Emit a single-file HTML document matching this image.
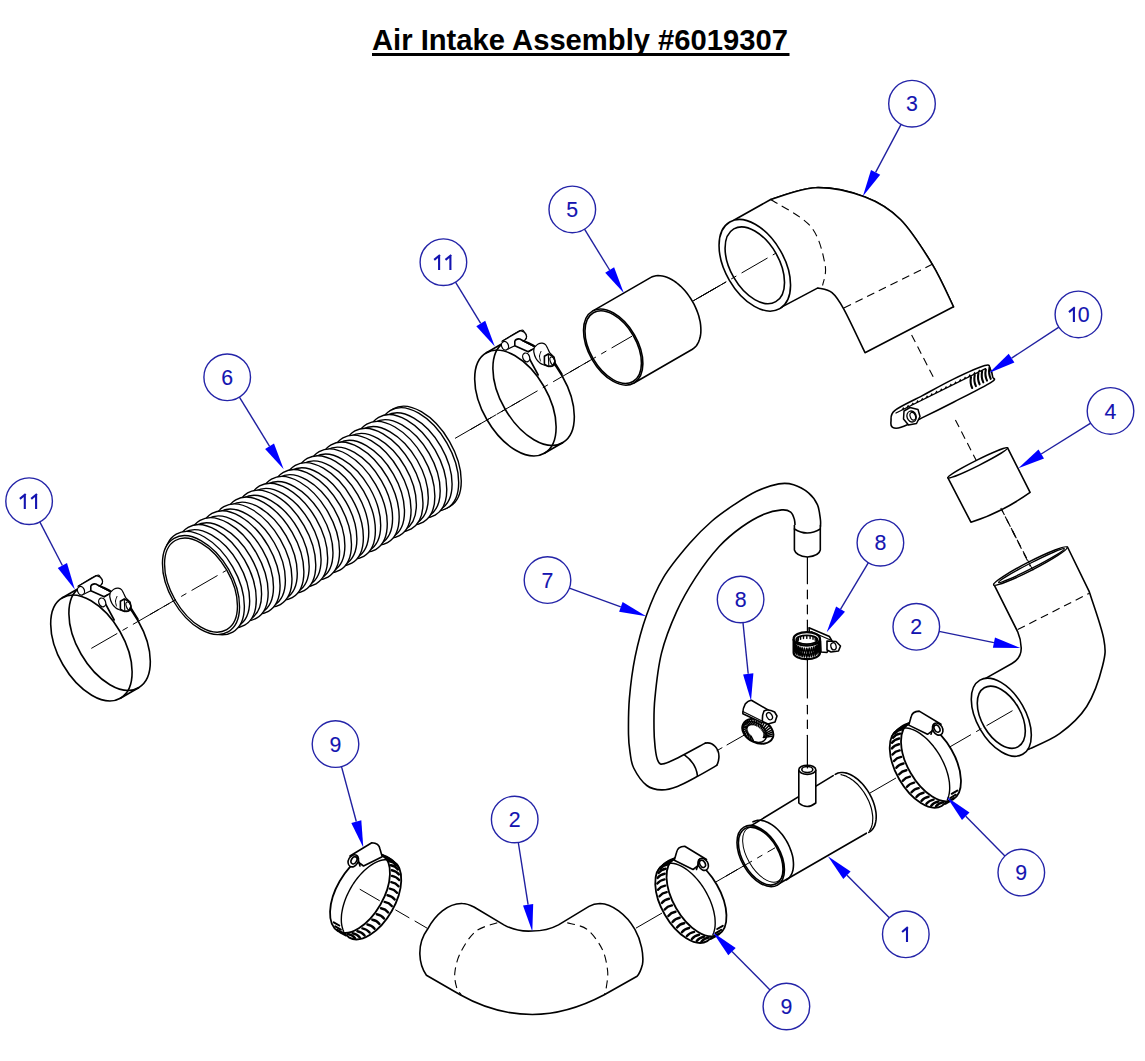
<!DOCTYPE html>
<html><head><meta charset="utf-8"><style>
html,body{margin:0;padding:0;background:#fff;width:1145px;height:1061px;overflow:hidden}
svg{position:absolute;left:0;top:0}
.cc{fill:none;stroke:#2424a8;stroke-width:1.4}
.cl{stroke:#2020a0;stroke-width:1.4}
.ca{fill:#0000ff}
.c1{fill:none;stroke:#1414b0;stroke-width:2.1;stroke-linecap:butt}
.ct{font-family:"Liberation Sans",sans-serif;font-size:21.3px;fill:#1414b0;stroke:#1414b0;stroke-width:0.12;text-anchor:middle}
.k{fill:none;stroke:#000;stroke-width:1.6;stroke-linejoin:round;stroke-linecap:round}
.kw{fill:#fff;stroke:#000;stroke-width:1.6;stroke-linejoin:round}
.t{fill:none;stroke:#000;stroke-width:1}
.t6{stroke-width:1.4}
.dc{fill:none;stroke:#000;stroke-width:1;stroke-dasharray:30 6 6 6}
.dv{fill:none;stroke:#000;stroke-width:1.1;stroke-dasharray:26 5 8 5}
.dd{fill:none;stroke:#000;stroke-width:1.1;stroke-dasharray:8 5}
</style></head><body>
<svg width="1145" height="1061" viewBox="0 0 1145 1061">
<text x="372" y="50" style="font-family:'Liberation Sans',sans-serif;font-weight:bold;font-size:29.4px" textLength="416" lengthAdjust="spacingAndGlyphs">Air Intake Assembly #6019307</text>
<rect x="372" y="53" width="417.5" height="3" fill="#000"/>
<line x1="91.3" y1="648.4" x2="170.0" y2="603.0" class="dc" />
<line x1="455.0" y1="438.4" x2="520.0" y2="400.9" class="dc" />
<line x1="690.0" y1="302.7" x2="776.0" y2="253.1" class="dc" />
<ellipse cx="421.4" cy="457.8" rx="56.5" ry="32.5" transform="rotate(60.0 421.4 457.8)" class="kw t6" />
<ellipse cx="418.8" cy="459.3" rx="56.5" ry="32.5" transform="rotate(60.0 418.8 459.3)" class="kw t6" />
<ellipse cx="413.7" cy="462.3" rx="54.0" ry="31.5" transform="rotate(60.0 413.7 462.3)" class="kw t6" />
<ellipse cx="406.9" cy="466.2" rx="56.5" ry="32.5" transform="rotate(60.0 406.9 466.2)" class="kw t6" />
<ellipse cx="401.8" cy="469.1" rx="54.0" ry="31.5" transform="rotate(60.0 401.8 469.1)" class="kw t6" />
<ellipse cx="395.0" cy="473.1" rx="56.5" ry="32.5" transform="rotate(60.0 395.0 473.1)" class="kw t6" />
<ellipse cx="389.9" cy="476.0" rx="54.0" ry="31.5" transform="rotate(60.0 389.9 476.0)" class="kw t6" />
<ellipse cx="383.1" cy="479.9" rx="56.5" ry="32.5" transform="rotate(60.0 383.1 479.9)" class="kw t6" />
<ellipse cx="378.0" cy="482.9" rx="54.0" ry="31.5" transform="rotate(60.0 378.0 482.9)" class="kw t6" />
<ellipse cx="371.2" cy="486.8" rx="56.5" ry="32.5" transform="rotate(60.0 371.2 486.8)" class="kw t6" />
<ellipse cx="366.1" cy="489.8" rx="54.0" ry="31.5" transform="rotate(60.0 366.1 489.8)" class="kw t6" />
<ellipse cx="359.3" cy="493.7" rx="56.5" ry="32.5" transform="rotate(60.0 359.3 493.7)" class="kw t6" />
<ellipse cx="354.2" cy="496.6" rx="54.0" ry="31.5" transform="rotate(60.0 354.2 496.6)" class="kw t6" />
<ellipse cx="347.4" cy="500.6" rx="56.5" ry="32.5" transform="rotate(60.0 347.4 500.6)" class="kw t6" />
<ellipse cx="342.3" cy="503.5" rx="54.0" ry="31.5" transform="rotate(60.0 342.3 503.5)" class="kw t6" />
<ellipse cx="335.5" cy="507.4" rx="56.5" ry="32.5" transform="rotate(60.0 335.5 507.4)" class="kw t6" />
<ellipse cx="330.4" cy="510.4" rx="54.0" ry="31.5" transform="rotate(60.0 330.4 510.4)" class="kw t6" />
<ellipse cx="323.5" cy="514.3" rx="56.5" ry="32.5" transform="rotate(60.0 323.5 514.3)" class="kw t6" />
<ellipse cx="318.5" cy="517.3" rx="54.0" ry="31.5" transform="rotate(60.0 318.5 517.3)" class="kw t6" />
<ellipse cx="311.6" cy="521.2" rx="56.5" ry="32.5" transform="rotate(60.0 311.6 521.2)" class="kw t6" />
<ellipse cx="306.5" cy="524.1" rx="54.0" ry="31.5" transform="rotate(60.0 306.5 524.1)" class="kw t6" />
<ellipse cx="299.7" cy="528.1" rx="56.5" ry="32.5" transform="rotate(60.0 299.7 528.1)" class="kw t6" />
<ellipse cx="294.6" cy="531.0" rx="54.0" ry="31.5" transform="rotate(60.0 294.6 531.0)" class="kw t6" />
<ellipse cx="287.8" cy="534.9" rx="56.5" ry="32.5" transform="rotate(60.0 287.8 534.9)" class="kw t6" />
<ellipse cx="282.7" cy="537.9" rx="54.0" ry="31.5" transform="rotate(60.0 282.7 537.9)" class="kw t6" />
<ellipse cx="275.9" cy="541.8" rx="56.5" ry="32.5" transform="rotate(60.0 275.9 541.8)" class="kw t6" />
<ellipse cx="270.8" cy="544.8" rx="54.0" ry="31.5" transform="rotate(60.0 270.8 544.8)" class="kw t6" />
<ellipse cx="264.0" cy="548.7" rx="56.5" ry="32.5" transform="rotate(60.0 264.0 548.7)" class="kw t6" />
<ellipse cx="258.9" cy="551.6" rx="54.0" ry="31.5" transform="rotate(60.0 258.9 551.6)" class="kw t6" />
<ellipse cx="252.1" cy="555.6" rx="56.5" ry="32.5" transform="rotate(60.0 252.1 555.6)" class="kw t6" />
<ellipse cx="247.0" cy="558.5" rx="54.0" ry="31.5" transform="rotate(60.0 247.0 558.5)" class="kw t6" />
<ellipse cx="240.2" cy="562.4" rx="56.5" ry="32.5" transform="rotate(60.0 240.2 562.4)" class="kw t6" />
<ellipse cx="235.1" cy="565.4" rx="54.0" ry="31.5" transform="rotate(60.0 235.1 565.4)" class="kw t6" />
<ellipse cx="228.3" cy="569.3" rx="56.5" ry="32.5" transform="rotate(60.0 228.3 569.3)" class="kw t6" />
<ellipse cx="223.2" cy="572.3" rx="54.0" ry="31.5" transform="rotate(60.0 223.2 572.3)" class="kw t6" />
<ellipse cx="216.4" cy="576.2" rx="56.5" ry="32.5" transform="rotate(60.0 216.4 576.2)" class="kw t6" />
<ellipse cx="211.3" cy="579.1" rx="54.0" ry="31.5" transform="rotate(60.0 211.3 579.1)" class="kw t6" />
<ellipse cx="204.5" cy="583.1" rx="56.5" ry="32.5" transform="rotate(60.0 204.5 583.1)" class="kw t6" />
<ellipse cx="201.0" cy="585.1" rx="54.0" ry="31.8" transform="rotate(60.0 201.0 585.1)" class="kw t6" />
<ellipse cx="201.0" cy="585.1" rx="51.5" ry="29.8" transform="rotate(60.0 201.0 585.1)" class="k t6" />
<line x1="150.0" y1="614.5" x2="226.0" y2="570.6" class="dc" />
<ellipse cx="109.6" cy="637.5" rx="58.0" ry="33.0" transform="rotate(60.0 109.6 637.5)" class="k" />
<ellipse cx="91.4" cy="648.0" rx="58.0" ry="33.0" transform="rotate(60.0 91.4 648.0)" class="k" />
<line x1="62.4" y1="597.8" x2="80.6" y2="587.3" class="k" />
<line x1="120.4" y1="698.2" x2="138.6" y2="687.7" class="k" />
<line x1="105.3" y1="603.5" x2="114.2" y2="620.0" class="k" />
<line x1="129.9" y1="606.3" x2="138.0" y2="619.2" class="k" />
<path d="M78.2,586.2 C81.2,584.4 92.7,577.1 96.4,575.6 C100.1,574.1 99.3,576.4 100.3,577.3 C101.3,578.2 102.3,580.0 102.5,581.2 C102.7,582.4 102.0,583.8 101.4,584.5 C100.9,585.2 99.6,585.5 99.2,585.7" class="k" style="stroke-width:1.25"/>
<path d="M78.2,586.2 L96.4,575.6 Q102,576 102.5,581.2 L101.4,584.5 L84.1,594 Z" class="kw" style="stroke:none"/>
<line x1="78.2" y1="586.2" x2="96.4" y2="575.6" class="k" style="stroke-width:1.25"/>
<path d="M96.4,575.6 C97.1,575.9 99.3,576.4 100.3,577.3 C101.3,578.2 102.3,580.0 102.5,581.2 C102.7,582.4 102.0,583.8 101.4,584.5 C100.9,585.2 99.6,585.5 99.2,585.7" class="k" style="stroke-width:1.25"/>
<line x1="84.1" y1="594.0" x2="90.8" y2="590.7" class="k" style="stroke-width:1.25"/>
<ellipse cx="81.0" cy="590.7" rx="3.4" ry="4.4" transform="rotate(-20.0 81.0 590.7)" class="kw" style="stroke-width:1.25"/>
<path d="M90.8,590.7 L90.8,586.2 Q92,583.5 95.8,584 L112,592.4 L104.2,596.8 L91.9,591.2 Z" class="kw"/>
<line x1="98.0" y1="585.7" x2="111.0" y2="592.2" class="k" style="stroke-width:1"/>
<ellipse cx="102.2" cy="602.4" rx="3.4" ry="4.5" transform="rotate(-20.0 102.2 602.4)" class="kw" style="stroke-width:1.25"/>
<line x1="104.2" y1="596.8" x2="108.0" y2="594.5" class="k" style="stroke-width:1.25"/>
<path d="M110.3,592.4 C111.0,591.8 112.9,589.7 114.2,589.0 C115.5,588.3 117.0,588.1 118.2,588.2 C119.4,588.3 120.6,588.7 121.5,589.6 C122.4,590.5 123.0,592.1 123.7,593.5 C124.5,594.9 125.1,596.8 126.0,598.0 C126.9,599.2 128.2,599.8 129.0,601.0 C129.8,602.2 130.5,603.4 130.5,605.0 C130.5,606.6 129.8,609.7 128.8,610.8 C127.8,611.9 125.7,611.5 124.3,611.4 C122.9,611.3 121.8,610.8 120.4,610.2 C119.0,609.6 117.3,609.1 115.9,608.0 C114.5,606.9 113.0,605.4 112.0,603.5 C111.0,601.6 110.1,598.6 109.8,596.8 C109.5,594.9 110.2,593.1 110.3,592.4" class="kw" style="stroke-width:1.25"/>
<path d="M116.5,606.0 C116.3,605.2 115.4,602.6 115.5,601.0 C115.6,599.4 116.8,597.2 117.0,596.5" class="k" style="stroke-width:1"/>
<path d="M120.4,601.3 L124.3,599 L129.9,601.9 L131,606.3 L128.8,610.8 L124.3,611.4 L120.4,609.1 Z" class="kw"/>
<line x1="124.3" y1="599.0" x2="124.8" y2="611.2" class="k" style="stroke-width:1.1"/>
<ellipse cx="128.5" cy="606.0" rx="2.2" ry="4.3" transform="rotate(-20.0 128.5 606.0)" class="k" style="stroke-width:1.1"/>
<g transform="translate(424,-245)">
<ellipse cx="109.6" cy="637.5" rx="58.0" ry="33.0" transform="rotate(60.0 109.6 637.5)" class="k" />
<ellipse cx="91.4" cy="648.0" rx="58.0" ry="33.0" transform="rotate(60.0 91.4 648.0)" class="k" />
<line x1="62.4" y1="597.8" x2="80.6" y2="587.3" class="k" />
<line x1="120.4" y1="698.2" x2="138.6" y2="687.7" class="k" />
<line x1="105.3" y1="603.5" x2="114.2" y2="620.0" class="k" />
<line x1="129.9" y1="606.3" x2="138.0" y2="619.2" class="k" />
<path d="M78.2,586.2 C81.2,584.4 92.7,577.1 96.4,575.6 C100.1,574.1 99.3,576.4 100.3,577.3 C101.3,578.2 102.3,580.0 102.5,581.2 C102.7,582.4 102.0,583.8 101.4,584.5 C100.9,585.2 99.6,585.5 99.2,585.7" class="k" style="stroke-width:1.25"/>
<path d="M78.2,586.2 L96.4,575.6 Q102,576 102.5,581.2 L101.4,584.5 L84.1,594 Z" class="kw" style="stroke:none"/>
<line x1="78.2" y1="586.2" x2="96.4" y2="575.6" class="k" style="stroke-width:1.25"/>
<path d="M96.4,575.6 C97.1,575.9 99.3,576.4 100.3,577.3 C101.3,578.2 102.3,580.0 102.5,581.2 C102.7,582.4 102.0,583.8 101.4,584.5 C100.9,585.2 99.6,585.5 99.2,585.7" class="k" style="stroke-width:1.25"/>
<line x1="84.1" y1="594.0" x2="90.8" y2="590.7" class="k" style="stroke-width:1.25"/>
<ellipse cx="81.0" cy="590.7" rx="3.4" ry="4.4" transform="rotate(-20.0 81.0 590.7)" class="kw" style="stroke-width:1.25"/>
<path d="M90.8,590.7 L90.8,586.2 Q92,583.5 95.8,584 L112,592.4 L104.2,596.8 L91.9,591.2 Z" class="kw"/>
<line x1="98.0" y1="585.7" x2="111.0" y2="592.2" class="k" style="stroke-width:1"/>
<ellipse cx="102.2" cy="602.4" rx="3.4" ry="4.5" transform="rotate(-20.0 102.2 602.4)" class="kw" style="stroke-width:1.25"/>
<line x1="104.2" y1="596.8" x2="108.0" y2="594.5" class="k" style="stroke-width:1.25"/>
<path d="M110.3,592.4 C111.0,591.8 112.9,589.7 114.2,589.0 C115.5,588.3 117.0,588.1 118.2,588.2 C119.4,588.3 120.6,588.7 121.5,589.6 C122.4,590.5 123.0,592.1 123.7,593.5 C124.5,594.9 125.1,596.8 126.0,598.0 C126.9,599.2 128.2,599.8 129.0,601.0 C129.8,602.2 130.5,603.4 130.5,605.0 C130.5,606.6 129.8,609.7 128.8,610.8 C127.8,611.9 125.7,611.5 124.3,611.4 C122.9,611.3 121.8,610.8 120.4,610.2 C119.0,609.6 117.3,609.1 115.9,608.0 C114.5,606.9 113.0,605.4 112.0,603.5 C111.0,601.6 110.1,598.6 109.8,596.8 C109.5,594.9 110.2,593.1 110.3,592.4" class="kw" style="stroke-width:1.25"/>
<path d="M116.5,606.0 C116.3,605.2 115.4,602.6 115.5,601.0 C115.6,599.4 116.8,597.2 117.0,596.5" class="k" style="stroke-width:1"/>
<path d="M120.4,601.3 L124.3,599 L129.9,601.9 L131,606.3 L128.8,610.8 L124.3,611.4 L120.4,609.1 Z" class="kw"/>
<line x1="124.3" y1="599.0" x2="124.8" y2="611.2" class="k" style="stroke-width:1.1"/>
<ellipse cx="128.5" cy="606.0" rx="2.2" ry="4.3" transform="rotate(-20.0 128.5 606.0)" class="k" style="stroke-width:1.1"/>
</g>
<line x1="470.0" y1="429.8" x2="590.0" y2="360.5" class="dc" />
<path d="M592.5,311.1 L650.5,277.6 L652.2,276.8 L654.0,276.2 L656.0,275.8 L658.0,275.6 L660.2,275.7 L662.4,276.0 L664.6,276.5 L666.9,277.3 L669.2,278.3 L671.6,279.5 L673.9,280.9 L676.2,282.5 L678.5,284.4 L680.7,286.3 L682.9,288.5 L685.0,290.8 L687.0,293.3 L688.9,295.9 L690.7,298.5 L692.4,301.3 L694.0,304.2 L695.4,307.1 L696.7,310.1 L697.8,313.0 L698.8,316.0 L699.5,319.0 L700.2,321.9 L700.6,324.8 L700.8,327.6 L700.9,330.3 L700.8,333.0 L700.5,335.5 L700.0,337.8 L699.3,340.0 L698.5,342.1 L697.5,344.0 L696.4,345.7 L695.0,347.2 L693.6,348.4 L692.0,349.5 L634.0,383.0" class="kw" />
<ellipse cx="613.2" cy="347.1" rx="41.5" ry="24.5" transform="rotate(60.0 613.2 347.1)" class="kw" />
<ellipse cx="613.2" cy="347.1" rx="39.7" ry="23.2" transform="rotate(60.0 613.2 347.1)" class="k" />
<line x1="570.0" y1="372.0" x2="632.0" y2="336.2" class="dc" />
<line x1="694.0" y1="300.4" x2="720.0" y2="285.4" class="k" style="stroke-width:1"/>
<path d="M770.7,199.5 C778.2,197.5 799.8,188.1 815.5,187.7 C831.2,187.3 850.9,191.7 865.0,197.0 C879.1,202.3 889.2,208.3 900.4,219.5 C911.6,230.7 923.4,249.8 932.3,264.3 C941.1,278.9 950.0,299.7 953.5,306.8" class="k" />
<path d="M734.2,220 L770.7,199.5  C778.2,197.5 799.8,188.1 815.5,187.7 C831.2,187.3 850.9,191.7 865.0,197.0 C879.1,202.3 889.2,208.3 900.4,219.5 C911.6,230.7 923.4,249.8 932.3,264.3 C941.1,278.9 950.0,299.7 953.5,306.8 L865,352.7  C861.5,345.4 849.3,319.1 843.8,309.1 C838.3,299.1 836.3,296.1 832.0,292.6 C827.7,289.1 820.2,288.7 817.9,287.9 L777.8,309.1 Z" class="kw"/>
<ellipse cx="754.8" cy="265.3" rx="50.0" ry="29.5" transform="rotate(60.0 754.8 265.3)" class="kw" />
<ellipse cx="754.8" cy="265.3" rx="42.0" ry="24.3" transform="rotate(60.0 754.8 265.3)" class="k" />
<path d="M770.7,199.5 C777.4,204.0 801.8,215.8 810.8,226.6 C819.8,237.4 823.0,254.5 825.0,264.3 C827.0,274.1 823.0,282.0 822.6,285.5" class="dd" />
<line x1="843.8" y1="308.0" x2="932.3" y2="264.3" class="dd" />
<line x1="700.0" y1="297.0" x2="776.0" y2="253.1" class="dc" />
<line x1="911.6" y1="335.0" x2="933.8" y2="378.0" class="dd" />
<line x1="955.4" y1="420.0" x2="981.2" y2="470.0" class="dd" />
<line x1="999.2" y1="505.0" x2="1032.7" y2="570.0" class="dd" />
<path d="M894.7,410.6 C899.9,406.4 912.1,401.1 921.9,395.9 C931.7,390.6 942.9,384.2 953.4,379.1 C963.9,374.0 978.7,367.2 984.8,365.5 C990.9,363.8 988.8,366.7 990.1,368.6 C991.4,370.5 992.5,374.7 992.7,377.0 C992.9,379.3 997.7,378.1 991.1,382.3 C984.5,386.5 964.9,396.3 953.4,402.2 C941.9,408.1 930.6,413.7 921.9,417.9 C913.2,422.1 905.9,425.7 901.0,427.3 C896.1,428.9 894.3,428.4 892.6,427.3 C890.9,426.2 890.6,423.8 891.0,421.0 C891.4,418.2 889.6,414.8 894.7,410.6Z" class="kw" />
<line x1="896.0" y1="413.0" x2="985.5" y2="368.6" class="k" style="stroke-width:1.3"/>
<path d="M901.4,410.3 L903.2,407.1 L904.6,408.7 Z" fill="#000"/>
<path d="M906.1,407.9 L908.0,404.7 L909.4,406.3 Z" fill="#000"/>
<path d="M910.9,405.6 L912.7,402.4 L914.1,404.0 Z" fill="#000"/>
<path d="M915.6,403.2 L917.5,400.0 L918.9,401.6 Z" fill="#000"/>
<path d="M920.4,400.9 L922.2,397.7 L923.6,399.3 Z" fill="#000"/>
<path d="M925.1,398.5 L927.0,395.3 L928.4,396.9 Z" fill="#000"/>
<path d="M929.9,396.2 L931.7,393.0 L933.1,394.6 Z" fill="#000"/>
<path d="M934.6,393.8 L936.5,390.6 L937.9,392.2 Z" fill="#000"/>
<path d="M939.4,391.4 L941.2,388.2 L942.6,389.8 Z" fill="#000"/>
<path d="M944.1,389.1 L946.0,385.9 L947.4,387.5 Z" fill="#000"/>
<path d="M948.9,386.7 L950.7,383.5 L952.1,385.1 Z" fill="#000"/>
<path d="M953.6,384.4 L955.5,381.2 L956.9,382.8 Z" fill="#000"/>
<path d="M958.4,382.0 L960.2,378.8 L961.6,380.4 Z" fill="#000"/>
<path d="M963.1,379.7 L965.0,376.5 L966.4,378.1 Z" fill="#000"/>
<path d="M967.9,377.3 L969.7,374.1 L971.1,375.7 Z" fill="#000"/>
<path d="M972.6,375.0 L974.5,371.8 L975.9,373.4 Z" fill="#000"/>
<path d="M977.4,372.6 L979.2,369.4 L980.6,371.0 Z" fill="#000"/>
<path d="M971.0,377.0 Q969.8,383.0 972.2,388.0" class="k" style="stroke-width:2.1"/>
<path d="M974.7,375.1 Q973.5,381.1 975.9,386.1" class="k" style="stroke-width:2.1"/>
<path d="M978.4,373.3 Q977.2,379.3 979.6,384.3" class="k" style="stroke-width:2.1"/>
<path d="M982.1,371.4 Q980.9,377.4 983.3,382.4" class="k" style="stroke-width:2.1"/>
<path d="M985.8,369.6 Q984.6,375.6 987.0,380.6" class="k" style="stroke-width:2.1"/>
<path d="M989.5,367.8 Q988.3,373.8 990.7,378.8" class="k" style="stroke-width:2.1"/>
<path d="M904,411 L910,407.5 L918,409.5 L920,416.5 L916.5,423.5 L908.5,425 L903.5,419 Z" class="kw" style="stroke-width:1.5"/>
<ellipse cx="911.6" cy="416.5" rx="4.6" ry="5.6" transform="rotate(-20.0 911.6 416.5)" class="k" style="stroke-width:1.3"/>
<ellipse cx="912.8" cy="416.2" rx="2.6" ry="4.0" transform="rotate(-20.0 912.8 416.2)" class="k" style="stroke-width:1.2"/>
<path d="M947.8,477.7 L970.9,522.2 Q1001,513 1030.1,492.4 L1007.6,447.8 Z" class="kw"/>
<ellipse cx="977.7" cy="462.8" rx="33.4" ry="2.8" transform="rotate(-26.6 977.7 462.8)" class="kw" style="stroke-width:1.5"/>
<line x1="1000.8" y1="508.0" x2="1017.3" y2="540.0" class="dd" />
<path d="M983.8,679.4 L1012,663.5 C1018,660 1021.5,655 1021.2,647.7 C1021,641 1019.5,636 1017.7,631.8 L993.9,584.3 L1067.5,547 L1089,591.1  C1091.5,599.0 1101.4,626.2 1103.7,638.6 C1106.0,651.0 1105.4,654.5 1102.6,665.8 C1099.8,677.1 1093.9,695.2 1086.7,706.5 C1079.5,717.8 1069.4,726.5 1059.6,733.7 C1049.8,740.9 1033.2,746.9 1027.9,749.5 Z" class="kw"/>
<ellipse cx="1001.3" cy="717.2" rx="42.8" ry="24.3" transform="rotate(60.0 1001.3 717.2)" class="kw" />
<ellipse cx="1001.3" cy="717.2" rx="34.0" ry="19.6" transform="rotate(60.0 1001.3 717.2)" class="k" />
<ellipse cx="1030.4" cy="566.0" rx="41.3" ry="4.3" transform="rotate(-27.1 1030.4 566.0)" class="kw" style="stroke-width:1.5"/>
<ellipse cx="1031.5" cy="565.6" rx="37.0" ry="2.6" transform="rotate(-27.1 1031.5 565.6)" class="k" style="stroke-width:1.3"/>
<line x1="1027.6" y1="560.0" x2="1032.7" y2="570.0" class="k" style="stroke-width:1"/>
<line x1="1017.7" y1="629.6" x2="1089.0" y2="593.4" class="dd" />
<line x1="1012.0" y1="530.0" x2="1030.2" y2="566.2" class="dd" />
<line x1="636.0" y1="928.1" x2="668.0" y2="909.6" class="dc" />
<line x1="712.0" y1="884.2" x2="765.0" y2="853.6" class="dc" />
<line x1="870.0" y1="793.0" x2="905.0" y2="772.8" class="dc" />
<line x1="945.0" y1="749.7" x2="1018.0" y2="707.5" class="dc" />
<path d="M744.0,827.1 L835.7,774.1 L837.1,773.4 L838.6,772.9 L840.1,772.6 L841.8,772.5 L843.5,772.6 L845.2,772.8 L847.0,773.3 L848.8,773.9 L850.7,774.7 L852.5,775.7 L854.4,776.9 L856.2,778.2 L858.1,779.7 L859.9,781.3 L861.6,783.0 L863.3,784.9 L864.9,786.9 L866.5,789.0 L867.9,791.2 L869.3,793.4 L870.6,795.7 L871.7,798.1 L872.7,800.4 L873.7,802.8 L874.4,805.2 L875.1,807.6 L875.6,810.0 L875.9,812.3 L876.2,814.6 L876.2,816.8 L876.1,818.9 L875.9,820.9 L875.6,822.8 L875.1,824.5 L874.4,826.2 L873.6,827.7 L872.7,829.0 L871.7,830.2 L870.5,831.3 L869.2,832.1 L777.5,885.1Z" class="kw" style="stroke:none"/>
<line x1="745.2" y1="829.3" x2="833.2" y2="775.6" class="k" />
<line x1="777.2" y1="884.7" x2="866.4" y2="833.2" class="k" />
<path d="M835.2,774.4 L836.5,773.7 L838.0,773.1 L839.5,772.7 L841.2,772.5 L842.9,772.5 L844.7,772.7 L846.5,773.1 L848.3,773.7 L850.2,774.5 L852.1,775.5 L854.0,776.6 L855.9,778.0 L857.8,779.4 L859.6,781.1 L861.4,782.8 L863.2,784.7 L864.8,786.8 L866.4,788.9 L867.9,791.1 L869.3,793.4 L870.6,795.8 L871.8,798.2 L872.8,800.6 L873.7,803.1 L874.5,805.5 L875.1,807.9 L875.6,810.4 L876.0,812.7 L876.2,815.0 L876.2,817.2 L876.1,819.4 L875.8,821.4 L875.4,823.3 L874.9,825.1 L874.2,826.7 L873.3,828.2 L872.3,829.5 L871.2,830.7 L870.0,831.6 L868.7,832.4" class="k" />
<path d="M841.0,774.7 L842.3,775.0 L843.7,775.4 L845.2,775.8 L846.6,776.4 L848.0,777.2 L849.5,778.0 L850.9,778.9 L852.4,779.9 L853.8,781.0 L855.2,782.2 L856.6,783.5 L858.0,784.8 L859.3,786.3 L860.6,787.8 L861.8,789.4 L863.0,791.0 L864.2,792.7 L865.2,794.4 L866.3,796.2 L867.2,798.0 L868.1,799.8 L869.0,801.6 L869.7,803.5 L870.4,805.4 L871.0,807.2 L871.5,809.1 L871.9,810.9 L872.2,812.8 L872.5,814.6 L872.7,816.3 L872.8,818.0 L872.7,819.7 L872.6,821.3 L872.5,822.9 L872.2,824.4 L871.8,825.8 L871.4,827.1 L870.9,828.4 L870.3,829.5 L869.6,830.6" class="k" style="stroke-width:1.2"/>
<path d="M753.0,821.8 L754.4,821.2 L755.9,820.7 L757.4,820.4 L759.1,820.3 L760.7,820.3 L762.5,820.6 L764.3,821.0 L766.1,821.7 L768.0,822.5 L769.8,823.5 L771.7,824.6 L773.5,825.9 L775.4,827.4 L777.2,829.0 L778.9,830.8 L780.6,832.7 L782.2,834.6 L783.8,836.7 L785.2,838.9 L786.6,841.1 L787.9,843.5 L789.0,845.8 L790.0,848.2 L790.9,850.6 L791.7,853.0 L792.4,855.4 L792.9,857.7 L793.2,860.1 L793.4,862.3 L793.5,864.5 L793.4,866.6 L793.2,868.6 L792.9,870.5 L792.3,872.3 L791.7,873.9 L790.9,875.4 L790.0,876.8 L789.0,878.0 L787.8,879.0 L786.5,879.9" class="k" />
<ellipse cx="760.7" cy="856.1" rx="33.5" ry="19.4" transform="rotate(60.0 760.7 856.1)" class="kw" />
<ellipse cx="760.7" cy="856.1" rx="31.7" ry="18.1" transform="rotate(60.0 760.7 856.1)" class="k" />
<ellipse cx="763.2" cy="854.6" rx="30.5" ry="15.9" transform="rotate(60.0 763.2 854.6)" class="k" style="stroke-width:1"/>
<path d="M798.8,770 L798.8,803 Q807,810 815.8,803 L815.8,770" class="kw"/>
<ellipse cx="807.3" cy="769.8" rx="8.5" ry="4.6" transform="rotate(0.0 807.3 769.8)" class="kw" />
<ellipse cx="807.3" cy="769.5" rx="5.5" ry="3.0" transform="rotate(0.0 807.3 769.5)" class="k" />
<line x1="726.0" y1="876.1" x2="775.0" y2="847.8" class="dc" />
<line x1="807.4" y1="557.0" x2="807.4" y2="583.7" class="k" style="stroke-width:1.2"/>
<line x1="807.4" y1="590.0" x2="807.4" y2="598.7" class="k" style="stroke-width:1.2"/>
<line x1="807.4" y1="605.2" x2="807.4" y2="613.8" class="k" style="stroke-width:1.2"/>
<line x1="807.4" y1="620.2" x2="807.4" y2="640.0" class="k" style="stroke-width:1.2"/>
<line x1="807.4" y1="655.0" x2="807.4" y2="698.0" class="k" style="stroke-width:1.2"/>
<line x1="807.4" y1="705.3" x2="807.4" y2="713.8" class="k" style="stroke-width:1.2"/>
<line x1="807.4" y1="720.0" x2="807.4" y2="728.5" class="k" style="stroke-width:1.2"/>
<line x1="807.4" y1="735.3" x2="807.4" y2="768.0" class="k" style="stroke-width:1.2"/>
<path d="M820.4,527.0 C820.4,525.8 820.9,523.2 820.4,519.5 C819.9,515.8 819.4,509.1 817.4,504.7 C815.4,500.2 812.5,496.1 808.5,492.8 C804.5,489.5 798.6,486.2 793.6,484.7 C788.6,483.2 785.0,482.8 778.8,483.9 C772.6,485.0 763.9,487.8 756.5,491.3 C749.1,494.8 741.6,499.8 734.2,504.7 C726.8,509.6 719.4,514.6 712.0,521.0 C704.6,527.4 697.8,533.9 689.7,543.3 C681.6,552.7 670.6,565.6 663.4,577.6 C656.2,589.6 651.1,602.2 646.4,615.4 C641.7,628.6 637.9,643.1 635.1,656.9 C632.3,670.7 630.5,685.5 629.4,698.4 C628.3,711.3 628.4,725.3 628.5,734.2 C628.6,743.1 629.1,746.4 630.0,752.0 C630.9,757.6 630.9,762.4 633.7,768.0 C636.5,773.6 642.1,781.9 646.8,785.5 C651.5,789.1 656.6,789.8 661.7,789.9 C666.8,790.0 671.6,788.6 677.4,786.4 C683.2,784.2 690.0,780.3 696.6,776.8 C703.2,773.3 713.4,767.3 716.7,765.4" class="k" />
<path d="M795.1,527.0 C795.0,525.8 795.1,522.0 794.4,519.5 C793.7,517.0 792.8,513.7 790.7,512.1 C788.6,510.5 786.3,509.5 781.8,509.9 C777.3,510.3 770.6,511.4 763.9,514.3 C757.2,517.1 749.1,521.7 741.7,527.0 C734.3,532.3 727.1,537.9 719.4,546.3 C711.7,554.7 702.6,566.7 695.5,577.6 C688.4,588.5 682.3,599.0 676.6,611.6 C670.9,624.2 665.1,638.6 661.5,653.1 C657.9,667.6 656.1,685.8 654.9,698.4 C653.6,711.0 654.0,720.3 654.0,728.6 C654.0,736.9 654.7,742.9 655.2,748.0 C655.8,753.1 656.4,756.6 657.3,759.3 C658.2,762.0 658.7,763.7 660.8,764.1 C662.9,764.5 666.5,762.9 670.0,761.5 C673.5,760.1 675.9,758.9 681.8,755.8 C687.7,752.7 701.4,745.2 705.3,743.1" class="k" />
<path d="M794.4,525 L794.4,550 Q796,556 807.5,557 Q819,556 820.3,550 L820.3,525" class="kw"/>
<path d="M794.4,529 Q807,537 820.3,529" class="k"/>
<path d="M705.3,743.1 C713,741.5 719.5,749 718.9,757.6 C718.7,761 717.8,763.5 716.7,765.4" class="k"/>
<path d="M684.4,754.9 Q696,763 697.5,775.9" class="k"/>
<line x1="717.0" y1="750.6" x2="722.0" y2="747.8" class="k" style="stroke-width:1"/>
<line x1="727.0" y1="744.9" x2="743.7" y2="735.4" class="k" style="stroke-width:1"/>
<path d="M809,627.7 L829.5,636.6 L832,641 L827,652.5 L821,652 L820.5,641 L809.5,635 Z" class="kw" style="stroke-width:1.6"/>
<line x1="811.0" y1="631.5" x2="830.5" y2="640.0" class="k" style="stroke-width:1.2"/>
<path d="M827,641 L836,641.5 L840.5,646 L838.5,651 L831,652 L827,650 Z" class="kw" style="stroke-width:1.6"/>
<ellipse cx="833.5" cy="646.3" rx="2.6" ry="3.6" transform="rotate(-15.0 833.5 646.3)" class="k" style="stroke-width:1.3"/>
<path d="M793.6,638.9 L793.6,652.4 A13.2,6.8 0 0 0 820.0,652.4 L820.0,638.9" class="kw" style="stroke-width:2.2"/>
<ellipse cx="806.8" cy="638.9" rx="13.2" ry="6.8" transform="rotate(0.0 806.8 638.9)" class="kw" style="stroke-width:2.2"/>
<ellipse cx="806.8" cy="639.7" rx="10.6" ry="4.4" transform="rotate(0.0 806.8 639.7)" class="k" style="stroke-width:1.8"/>
<path d="M794.6,641.4 L794.8,651.7 L795.5,644.0 L796.7,654.2 L798.2,646.2 L800.0,656.1 L802.1,647.7 L804.4,657.1 L806.8,648.2 L809.2,657.1 L811.5,647.7 L813.6,656.1 L815.4,646.2 L816.9,654.2 L818.1,644.0 L818.8,651.7 L819.0,641.4" class="k" style="stroke-width:1.5"/>
<path d="M794.6,650.4 L794.8,642.7 L795.5,653.0 L796.7,645.2 L798.2,655.2 L800.0,647.1 L802.1,656.7 L804.4,648.1 L806.8,657.2 L809.2,648.1 L811.5,656.7 L813.6,647.1 L815.4,655.2 L816.9,645.2 L818.1,653.0 L818.8,642.7 L819.0,650.4" class="k" style="stroke-width:1.5"/>
<line x1="797.2" y1="639.0" x2="797.2" y2="641.5" class="k" style="stroke-width:1.4"/>
<line x1="798.4" y1="637.8" x2="798.4" y2="640.3" class="k" style="stroke-width:1.4"/>
<line x1="800.6" y1="636.8" x2="800.6" y2="639.3" class="k" style="stroke-width:1.4"/>
<line x1="803.5" y1="636.1" x2="803.5" y2="638.6" class="k" style="stroke-width:1.4"/>
<line x1="806.8" y1="635.9" x2="806.8" y2="638.4" class="k" style="stroke-width:1.4"/>
<line x1="810.1" y1="636.1" x2="810.1" y2="638.6" class="k" style="stroke-width:1.4"/>
<line x1="813.0" y1="636.8" x2="813.0" y2="639.3" class="k" style="stroke-width:1.4"/>
<line x1="815.2" y1="637.8" x2="815.2" y2="640.3" class="k" style="stroke-width:1.4"/>
<line x1="816.4" y1="639.0" x2="816.4" y2="641.5" class="k" style="stroke-width:1.4"/>
<ellipse cx="757.8" cy="731.2" rx="16.3" ry="11.5" transform="rotate(25 757.8 731.2)" fill="#fff" stroke="#000" stroke-width="2"/>
<ellipse cx="754.8" cy="732.0" rx="12.8" ry="9.0" transform="rotate(35 754.8 732)" fill="none" stroke="#000" stroke-width="1.5"/>
<line x1="753.4" y1="740.5" x2="751.0" y2="736.1" class="k" style="stroke-width:1.5"/>
<line x1="751.0" y1="739.2" x2="749.8" y2="734.9" class="k" style="stroke-width:1.5"/>
<line x1="748.9" y1="737.6" x2="748.7" y2="733.7" class="k" style="stroke-width:1.5"/>
<line x1="747.0" y1="735.8" x2="747.9" y2="732.3" class="k" style="stroke-width:1.5"/>
<line x1="745.5" y1="733.9" x2="747.3" y2="731.0" class="k" style="stroke-width:1.5"/>
<line x1="744.4" y1="731.9" x2="747.0" y2="729.7" class="k" style="stroke-width:1.5"/>
<line x1="743.7" y1="729.8" x2="747.0" y2="728.4" class="k" style="stroke-width:1.5"/>
<line x1="743.5" y1="727.8" x2="747.3" y2="727.3" class="k" style="stroke-width:1.5"/>
<line x1="743.8" y1="725.9" x2="747.8" y2="726.4" class="k" style="stroke-width:1.5"/>
<line x1="744.6" y1="724.1" x2="748.6" y2="725.6" class="k" style="stroke-width:1.5"/>
<line x1="745.8" y1="722.7" x2="749.7" y2="725.1" class="k" style="stroke-width:1.5"/>
<line x1="747.4" y1="721.5" x2="750.9" y2="724.7" class="k" style="stroke-width:1.5"/>
<line x1="749.4" y1="720.6" x2="752.3" y2="724.7" class="k" style="stroke-width:1.5"/>
<line x1="751.6" y1="720.1" x2="753.8" y2="724.8" class="k" style="stroke-width:1.5"/>
<line x1="754.0" y1="719.9" x2="755.3" y2="725.2" class="k" style="stroke-width:1.5"/>
<line x1="756.6" y1="720.1" x2="756.9" y2="725.9" class="k" style="stroke-width:1.5"/>
<line x1="759.2" y1="720.8" x2="758.4" y2="726.7" class="k" style="stroke-width:1.5"/>
<line x1="761.8" y1="721.7" x2="759.8" y2="727.7" class="k" style="stroke-width:1.5"/>
<line x1="764.2" y1="723.0" x2="761.1" y2="728.9" class="k" style="stroke-width:1.5"/>
<line x1="766.4" y1="724.5" x2="762.1" y2="730.2" class="k" style="stroke-width:1.5"/>
<line x1="768.4" y1="726.3" x2="763.0" y2="731.5" class="k" style="stroke-width:1.5"/>
<line x1="769.9" y1="728.2" x2="763.6" y2="732.8" class="k" style="stroke-width:1.5"/>
<line x1="771.1" y1="730.3" x2="763.9" y2="734.1" class="k" style="stroke-width:1.5"/>
<line x1="771.8" y1="732.3" x2="764.0" y2="735.4" class="k" style="stroke-width:1.5"/>
<line x1="772.1" y1="734.3" x2="763.8" y2="736.5" class="k" style="stroke-width:1.5"/>
<line x1="771.8" y1="736.3" x2="763.3" y2="737.5" class="k" style="stroke-width:1.5"/>
<path d="M751.4,700.2 L774.6,713.8 L762.1,722.8 L742.9,713.8 Q742.5,709 745.2,704.1 Q748,700.5 751.4,700.2 Z" class="kw" style="stroke-width:1.6"/>
<line x1="742.9" y1="711.5" x2="762.0" y2="721.0" class="k" style="stroke-width:1.1"/>
<path d="M764,711 Q768,708.5 774.6,712 L777,716 L775,722 L768,724 L762.5,721.5 Q762,715 764,711 Z" class="kw" style="stroke-width:1.6"/>
<ellipse cx="769.5" cy="716.2" rx="2.6" ry="3.8" transform="rotate(-30.0 769.5 716.2)" class="k" style="stroke-width:1.3"/>
<ellipse cx="371.3" cy="899.5" rx="44.0" ry="23.5" transform="rotate(120.0 371.3 899.5)" class="kw" style="stroke-width:1.8"/>
<ellipse cx="360.0" cy="893.0" rx="44.0" ry="23.5" transform="rotate(120.0 360.0 893.0)" class="kw" style="stroke-width:1.8"/>
<path d="M343.6,931.3 L342.8,929.3 L342.2,927.1 L341.7,924.8 L341.4,922.3 L341.3,919.7 L341.4,916.9 L341.6,914.0 L342.1,911.1 L342.7,908.0 L343.5,905.0 L344.5,901.8 L345.6,898.7 L346.9,895.6 L348.4,892.5 L350.0,889.4 L351.7,886.4 L353.5,883.5 L355.5,880.7 L357.5,878.0 L359.7,875.4 L361.9,873.0 L364.1,870.7 L366.4,868.7 L368.8,866.8 L371.1,865.1 L373.5,863.6 L375.8,862.4 L378.1,861.3 L380.4,860.5 L382.6,860.0 L384.7,859.7 L386.8,859.6 L388.8,859.8 L390.6,860.2 L392.3,860.9 L394.0,861.8 L395.4,863.0 L396.7,864.3 L397.9,865.9 L398.9,867.7" class="k" style="stroke-width:1.4"/>
<path d="M379.3,854.5 Q383.9,855.3 386.5,858.6" class="k" style="stroke-width:2.4"/>
<path d="M383.2,855.6 Q387.8,856.5 390.4,859.8" class="k" style="stroke-width:2.4"/>
<path d="M386.4,857.8 Q391.0,858.7 393.6,862.0" class="k" style="stroke-width:2.4"/>
<path d="M389.0,861.1 Q393.6,862.0 396.2,865.2" class="k" style="stroke-width:2.4"/>
<path d="M390.8,865.3 Q395.4,866.1 398.0,869.4" class="k" style="stroke-width:2.4"/>
<path d="M391.8,870.2 Q396.4,871.1 399.0,874.4" class="k" style="stroke-width:2.4"/>
<path d="M392.0,875.9 Q396.6,876.8 399.2,880.1" class="k" style="stroke-width:2.4"/>
<path d="M391.3,882.1 Q395.9,883.0 398.5,886.2" class="k" style="stroke-width:2.4"/>
<path d="M389.8,888.6 Q394.4,889.5 397.0,892.7" class="k" style="stroke-width:2.4"/>
<path d="M387.5,895.2 Q392.1,896.1 394.7,899.4" class="k" style="stroke-width:2.4"/>
<path d="M384.6,901.9 Q389.2,902.8 391.8,906.0" class="k" style="stroke-width:2.4"/>
<path d="M381.0,908.3 Q385.6,909.2 388.2,912.4" class="k" style="stroke-width:2.4"/>
<path d="M376.8,914.3 Q381.4,915.2 384.0,918.5" class="k" style="stroke-width:2.4"/>
<path d="M372.3,919.8 Q376.9,920.6 379.5,923.9" class="k" style="stroke-width:2.4"/>
<path d="M367.4,924.5 Q372.0,925.4 374.6,928.7" class="k" style="stroke-width:2.4"/>
<path d="M362.4,928.4 Q367.0,929.3 369.6,932.6" class="k" style="stroke-width:2.4"/>
<path d="M357.4,931.3 Q362.0,932.2 364.6,935.5" class="k" style="stroke-width:2.4"/>
<path d="M352.6,933.2 Q357.2,934.1 359.8,937.4" class="k" style="stroke-width:2.4"/>
<path d="M347.9,934.0 Q352.5,934.9 355.1,938.2" class="k" style="stroke-width:2.4"/>
<line x1="340.1" y1="932.3" x2="345.7" y2="935.5" class="k" style="stroke-width:2.0"/>
<line x1="337.3" y1="929.8" x2="343.0" y2="933.0" class="k" style="stroke-width:2.0"/>
<line x1="335.2" y1="926.4" x2="340.8" y2="929.7" class="k" style="stroke-width:2.0"/>
<line x1="333.7" y1="922.3" x2="339.3" y2="925.5" class="k" style="stroke-width:2.0"/>
<path d="M350,856 L371.8,842.8 Q379,843 380,849 L382.2,856.8 L363.5,866 Z" class="kw"/>
<ellipse cx="353.3" cy="860.8" rx="4.8" ry="6.4" transform="rotate(30.0 353.3 860.8)" class="kw" />
<ellipse cx="354.0" cy="860.3" rx="2.6" ry="3.8" transform="rotate(30.0 354.0 860.3)" class="k" />
<line x1="357.0" y1="856.0" x2="360.0" y2="866.0" class="k" />
<g transform="matrix(-1,0,0,1,1056.5,3.5)">
<ellipse cx="371.3" cy="899.5" rx="44.0" ry="23.5" transform="rotate(120.0 371.3 899.5)" class="kw" style="stroke-width:1.8"/>
<ellipse cx="360.0" cy="893.0" rx="44.0" ry="23.5" transform="rotate(120.0 360.0 893.0)" class="kw" style="stroke-width:1.8"/>
<path d="M343.6,931.3 L342.8,929.3 L342.2,927.1 L341.7,924.8 L341.4,922.3 L341.3,919.7 L341.4,916.9 L341.6,914.0 L342.1,911.1 L342.7,908.0 L343.5,905.0 L344.5,901.8 L345.6,898.7 L346.9,895.6 L348.4,892.5 L350.0,889.4 L351.7,886.4 L353.5,883.5 L355.5,880.7 L357.5,878.0 L359.7,875.4 L361.9,873.0 L364.1,870.7 L366.4,868.7 L368.8,866.8 L371.1,865.1 L373.5,863.6 L375.8,862.4 L378.1,861.3 L380.4,860.5 L382.6,860.0 L384.7,859.7 L386.8,859.6 L388.8,859.8 L390.6,860.2 L392.3,860.9 L394.0,861.8 L395.4,863.0 L396.7,864.3 L397.9,865.9 L398.9,867.7" class="k" style="stroke-width:1.4"/>
<path d="M379.3,854.5 Q383.9,855.3 386.5,858.6" class="k" style="stroke-width:2.4"/>
<path d="M383.2,855.6 Q387.8,856.5 390.4,859.8" class="k" style="stroke-width:2.4"/>
<path d="M386.4,857.8 Q391.0,858.7 393.6,862.0" class="k" style="stroke-width:2.4"/>
<path d="M389.0,861.1 Q393.6,862.0 396.2,865.2" class="k" style="stroke-width:2.4"/>
<path d="M390.8,865.3 Q395.4,866.1 398.0,869.4" class="k" style="stroke-width:2.4"/>
<path d="M391.8,870.2 Q396.4,871.1 399.0,874.4" class="k" style="stroke-width:2.4"/>
<path d="M392.0,875.9 Q396.6,876.8 399.2,880.1" class="k" style="stroke-width:2.4"/>
<path d="M391.3,882.1 Q395.9,883.0 398.5,886.2" class="k" style="stroke-width:2.4"/>
<path d="M389.8,888.6 Q394.4,889.5 397.0,892.7" class="k" style="stroke-width:2.4"/>
<path d="M387.5,895.2 Q392.1,896.1 394.7,899.4" class="k" style="stroke-width:2.4"/>
<path d="M384.6,901.9 Q389.2,902.8 391.8,906.0" class="k" style="stroke-width:2.4"/>
<path d="M381.0,908.3 Q385.6,909.2 388.2,912.4" class="k" style="stroke-width:2.4"/>
<path d="M376.8,914.3 Q381.4,915.2 384.0,918.5" class="k" style="stroke-width:2.4"/>
<path d="M372.3,919.8 Q376.9,920.6 379.5,923.9" class="k" style="stroke-width:2.4"/>
<path d="M367.4,924.5 Q372.0,925.4 374.6,928.7" class="k" style="stroke-width:2.4"/>
<path d="M362.4,928.4 Q367.0,929.3 369.6,932.6" class="k" style="stroke-width:2.4"/>
<path d="M357.4,931.3 Q362.0,932.2 364.6,935.5" class="k" style="stroke-width:2.4"/>
<path d="M352.6,933.2 Q357.2,934.1 359.8,937.4" class="k" style="stroke-width:2.4"/>
<path d="M347.9,934.0 Q352.5,934.9 355.1,938.2" class="k" style="stroke-width:2.4"/>
<line x1="340.1" y1="932.3" x2="345.7" y2="935.5" class="k" style="stroke-width:2.0"/>
<line x1="337.3" y1="929.8" x2="343.0" y2="933.0" class="k" style="stroke-width:2.0"/>
<line x1="335.2" y1="926.4" x2="340.8" y2="929.7" class="k" style="stroke-width:2.0"/>
<line x1="333.7" y1="922.3" x2="339.3" y2="925.5" class="k" style="stroke-width:2.0"/>
<path d="M350,856 L371.8,842.8 Q379,843 380,849 L382.2,856.8 L363.5,866 Z" class="kw"/>
<ellipse cx="353.3" cy="860.8" rx="4.8" ry="6.4" transform="rotate(30.0 353.3 860.8)" class="kw" />
<ellipse cx="354.0" cy="860.3" rx="2.6" ry="3.8" transform="rotate(30.0 354.0 860.3)" class="k" />
<line x1="357.0" y1="856.0" x2="360.0" y2="866.0" class="k" />
</g>
<g transform="matrix(-1,0,0,1,1291,-131.7)">
<ellipse cx="371.3" cy="899.5" rx="44.0" ry="23.5" transform="rotate(120.0 371.3 899.5)" class="kw" style="stroke-width:1.8"/>
<ellipse cx="360.0" cy="893.0" rx="44.0" ry="23.5" transform="rotate(120.0 360.0 893.0)" class="kw" style="stroke-width:1.8"/>
<path d="M343.6,931.3 L342.8,929.3 L342.2,927.1 L341.7,924.8 L341.4,922.3 L341.3,919.7 L341.4,916.9 L341.6,914.0 L342.1,911.1 L342.7,908.0 L343.5,905.0 L344.5,901.8 L345.6,898.7 L346.9,895.6 L348.4,892.5 L350.0,889.4 L351.7,886.4 L353.5,883.5 L355.5,880.7 L357.5,878.0 L359.7,875.4 L361.9,873.0 L364.1,870.7 L366.4,868.7 L368.8,866.8 L371.1,865.1 L373.5,863.6 L375.8,862.4 L378.1,861.3 L380.4,860.5 L382.6,860.0 L384.7,859.7 L386.8,859.6 L388.8,859.8 L390.6,860.2 L392.3,860.9 L394.0,861.8 L395.4,863.0 L396.7,864.3 L397.9,865.9 L398.9,867.7" class="k" style="stroke-width:1.4"/>
<path d="M379.3,854.5 Q383.9,855.3 386.5,858.6" class="k" style="stroke-width:2.4"/>
<path d="M383.2,855.6 Q387.8,856.5 390.4,859.8" class="k" style="stroke-width:2.4"/>
<path d="M386.4,857.8 Q391.0,858.7 393.6,862.0" class="k" style="stroke-width:2.4"/>
<path d="M389.0,861.1 Q393.6,862.0 396.2,865.2" class="k" style="stroke-width:2.4"/>
<path d="M390.8,865.3 Q395.4,866.1 398.0,869.4" class="k" style="stroke-width:2.4"/>
<path d="M391.8,870.2 Q396.4,871.1 399.0,874.4" class="k" style="stroke-width:2.4"/>
<path d="M392.0,875.9 Q396.6,876.8 399.2,880.1" class="k" style="stroke-width:2.4"/>
<path d="M391.3,882.1 Q395.9,883.0 398.5,886.2" class="k" style="stroke-width:2.4"/>
<path d="M389.8,888.6 Q394.4,889.5 397.0,892.7" class="k" style="stroke-width:2.4"/>
<path d="M387.5,895.2 Q392.1,896.1 394.7,899.4" class="k" style="stroke-width:2.4"/>
<path d="M384.6,901.9 Q389.2,902.8 391.8,906.0" class="k" style="stroke-width:2.4"/>
<path d="M381.0,908.3 Q385.6,909.2 388.2,912.4" class="k" style="stroke-width:2.4"/>
<path d="M376.8,914.3 Q381.4,915.2 384.0,918.5" class="k" style="stroke-width:2.4"/>
<path d="M372.3,919.8 Q376.9,920.6 379.5,923.9" class="k" style="stroke-width:2.4"/>
<path d="M367.4,924.5 Q372.0,925.4 374.6,928.7" class="k" style="stroke-width:2.4"/>
<path d="M362.4,928.4 Q367.0,929.3 369.6,932.6" class="k" style="stroke-width:2.4"/>
<path d="M357.4,931.3 Q362.0,932.2 364.6,935.5" class="k" style="stroke-width:2.4"/>
<path d="M352.6,933.2 Q357.2,934.1 359.8,937.4" class="k" style="stroke-width:2.4"/>
<path d="M347.9,934.0 Q352.5,934.9 355.1,938.2" class="k" style="stroke-width:2.4"/>
<line x1="340.1" y1="932.3" x2="345.7" y2="935.5" class="k" style="stroke-width:2.0"/>
<line x1="337.3" y1="929.8" x2="343.0" y2="933.0" class="k" style="stroke-width:2.0"/>
<line x1="335.2" y1="926.4" x2="340.8" y2="929.7" class="k" style="stroke-width:2.0"/>
<line x1="333.7" y1="922.3" x2="339.3" y2="925.5" class="k" style="stroke-width:2.0"/>
<path d="M350,856 L371.8,842.8 Q379,843 380,849 L382.2,856.8 L363.5,866 Z" class="kw"/>
<ellipse cx="353.3" cy="860.8" rx="4.8" ry="6.4" transform="rotate(30.0 353.3 860.8)" class="kw" />
<ellipse cx="354.0" cy="860.3" rx="2.6" ry="3.8" transform="rotate(30.0 354.0 860.3)" class="k" />
<line x1="357.0" y1="856.0" x2="360.0" y2="866.0" class="k" />
</g>
<line x1="360.1" y1="889.4" x2="379.4" y2="900.6" class="k" style="stroke-width:1"/>
<line x1="395.7" y1="910.0" x2="409.0" y2="917.7" class="k" style="stroke-width:1"/>
<line x1="415.0" y1="921.1" x2="427.0" y2="928.1" class="k" style="stroke-width:1"/>
<path d="M426.4,975.2 C419,965 416,945 427.5,929.3 C435,915 448,903 462.4,903.5 C467,903.5 470,905 474,907 L503.9,924.9 C515,931 525,931.5 532.3,931 C540,931 550,929.5 558.5,924.9 L589,906.4 C593,904 596,903.5 600,903.5 C612,904 626,914 634.9,929.3 C641,940 644,955 642.5,964.2 C641,970 640,973 637.1,976.2 L604.3,994.8 C585,1005 560,1014.5 532.3,1014.5 C505,1014.5 480,1006 460.2,994.8 Z" class="kw"/>
<path d="M497.3,922.8 C493.7,924.2 481.7,926.4 475.5,931.5 C469.3,936.6 463.6,946.4 460.2,953.3 C456.8,960.2 455.4,967.2 454.8,973.0 C454.2,978.8 455.8,984.7 456.9,988.3 C458.0,991.9 460.6,993.7 461.3,994.8" class="dd" />
<path d="M567.2,922.8 C570.5,923.9 581.1,924.9 586.9,929.3 C592.7,933.7 598.6,942.1 602.1,949.0 C605.6,955.9 606.9,964.6 607.6,970.8 C608.3,977.0 607.0,982.1 606.5,986.1 C606.0,990.1 604.7,993.3 604.3,994.8" class="dd" />
<circle cx="905.8" cy="934.3" r="23.3" class="cc"/>
<line x1="889.3" y1="917.8" x2="847.0" y2="875.3" class="cl"/>
<path d="M827.9,856.2L850.6,871.6L843.3,879.0Z" class="ca"/>
<path d="M907.0,942.0 L907.0,927.7 M907.9,927.1 L902.1,932.0" class="c1"/>
<circle cx="916.3" cy="626.8" r="23.3" class="cc"/>
<line x1="939.1" y1="631.4" x2="993.9" y2="642.6" class="cl"/>
<path d="M1020.4,648.0L992.9,647.7L995.0,637.5Z" class="ca"/>
<text x="916.3" y="634.4" class="ct">2</text>
<circle cx="514.7" cy="819.5" r="23.3" class="cc"/>
<line x1="518.3" y1="842.5" x2="528.1" y2="904.7" class="cl"/>
<path d="M532.3,931.4L523.0,905.5L533.2,903.9Z" class="ca"/>
<text x="514.7" y="827.1" class="ct">2</text>
<circle cx="912.0" cy="103.7" r="23.3" class="cc"/>
<line x1="901.1" y1="124.3" x2="875.6" y2="172.4" class="cl"/>
<path d="M862.9,196.2L871.0,169.9L880.2,174.8Z" class="ca"/>
<text x="912.0" y="111.3" class="ct">3</text>
<circle cx="1110.5" cy="410.9" r="23.3" class="cc"/>
<line x1="1090.7" y1="423.2" x2="1041.2" y2="454.0" class="cl"/>
<path d="M1018.3,468.3L1038.5,449.6L1044.0,458.4Z" class="ca"/>
<text x="1110.5" y="418.5" class="ct">4</text>
<circle cx="572.3" cy="209.4" r="23.3" class="cc"/>
<line x1="584.5" y1="229.2" x2="609.6" y2="270.0" class="cl"/>
<path d="M623.8,293.0L605.2,272.7L614.1,267.3Z" class="ca"/>
<text x="572.3" y="217.0" class="ct">5</text>
<circle cx="227.2" cy="377.3" r="23.3" class="cc"/>
<line x1="239.4" y1="397.2" x2="269.6" y2="446.3" class="cl"/>
<path d="M283.7,469.3L265.1,449.0L274.0,443.6Z" class="ca"/>
<text x="227.2" y="384.9" class="ct">6</text>
<circle cx="547.5" cy="580.1" r="23.3" class="cc"/>
<line x1="569.4" y1="588.1" x2="620.8" y2="606.9" class="cl"/>
<path d="M646.2,616.2L619.1,611.8L622.6,602.0Z" class="ca"/>
<text x="547.5" y="587.7" class="ct">7</text>
<circle cx="880.4" cy="542.7" r="23.3" class="cc"/>
<line x1="868.4" y1="562.7" x2="840.6" y2="609.1" class="cl"/>
<path d="M826.7,632.3L836.1,606.5L845.0,611.8Z" class="ca"/>
<text x="880.4" y="550.3" class="ct">8</text>
<circle cx="740.6" cy="599.5" r="23.3" class="cc"/>
<line x1="743.0" y1="622.7" x2="748.2" y2="673.8" class="cl"/>
<path d="M751.0,700.7L743.1,674.4L753.4,673.3Z" class="ca"/>
<text x="740.6" y="607.1" class="ct">8</text>
<circle cx="335.5" cy="744.1" r="23.3" class="cc"/>
<line x1="341.5" y1="766.6" x2="356.3" y2="821.5" class="cl"/>
<path d="M363.3,847.6L351.3,822.9L361.3,820.2Z" class="ca"/>
<text x="335.5" y="751.7" class="ct">9</text>
<circle cx="1021.3" cy="872.6" r="23.3" class="cc"/>
<line x1="1004.9" y1="856.0" x2="965.8" y2="816.2" class="cl"/>
<path d="M946.8,797.0L969.5,812.6L962.0,819.9Z" class="ca"/>
<text x="1021.3" y="880.2" class="ct">9</text>
<circle cx="786.4" cy="1006.5" r="23.3" class="cc"/>
<line x1="770.0" y1="989.9" x2="732.0" y2="951.6" class="cl"/>
<path d="M713.0,932.4L735.7,947.9L728.3,955.2Z" class="ca"/>
<text x="786.4" y="1014.1" class="ct">9</text>
<circle cx="1078.4" cy="314.4" r="23.3" class="cc"/>
<line x1="1058.9" y1="327.2" x2="1011.6" y2="358.1" class="cl"/>
<path d="M989.0,372.9L1008.7,353.8L1014.4,362.5Z" class="ca"/>
<path d="M1073.9,322.1 L1073.9,307.8 M1074.8,307.2 L1069.0,312.1" class="c1"/>
<text x="1083.7" y="322.0" class="ct">0</text>
<circle cx="443.4" cy="262.2" r="23.3" class="cc"/>
<line x1="455.5" y1="282.1" x2="480.7" y2="323.4" class="cl"/>
<path d="M494.8,346.5L476.3,326.2L485.2,320.7Z" class="ca"/>
<path d="M439.1,269.9 L439.1,255.6 M440.0,255.0 L434.2,259.9" class="c1"/>
<path d="M450.4,269.9 L450.4,255.6 M451.3,255.0 L445.5,259.9" class="c1"/>
<circle cx="29.1" cy="501.2" r="23.3" class="cc"/>
<line x1="39.8" y1="521.9" x2="62.4" y2="565.5" class="cl"/>
<path d="M74.8,589.5L57.8,567.9L67.0,563.1Z" class="ca"/>
<path d="M24.8,508.9 L24.8,494.6 M25.7,494.0 L19.9,498.9" class="c1"/>
<path d="M36.1,508.9 L36.1,494.6 M37.0,494.0 L31.2,498.9" class="c1"/>
</svg>
</body></html>
